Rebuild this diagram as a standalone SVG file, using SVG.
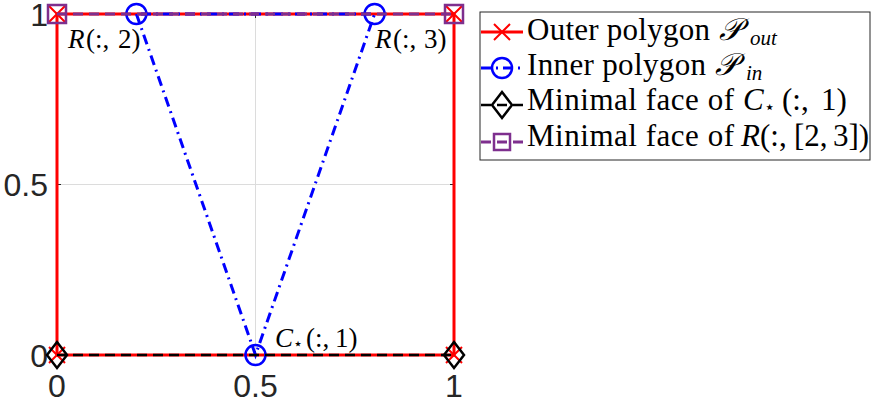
<svg xmlns="http://www.w3.org/2000/svg" width="885" height="402" viewBox="0 0 885 402">
<style>
.tick{font-family:"Liberation Sans",Arial,sans-serif;font-size:32px;fill:#262626}
.lbl{font-family:"Liberation Serif","DejaVu Serif",serif;font-size:27px;fill:#000}
.leg{font-family:"Liberation Serif","DejaVu Serif",serif;font-size:31px;fill:#000}
.it{font-style:italic}
.cal{font-family:"DejaVu Serif","Noto Sans",serif;font-style:italic}
.grid{stroke:#dcdcdc;stroke-width:1;fill:none}
.red{stroke:#ff0000;stroke-width:3;fill:none}
.blue{stroke:#0000ff;stroke-width:3;fill:none;stroke-dasharray:10 5 2 5}
.blk{stroke:#000;stroke-width:2.5;fill:none;stroke-dasharray:10 6}
.pur{stroke:#7e2f8e;stroke-width:3;fill:none;stroke-dasharray:10 6}
.mx{stroke:#ff0000;stroke-width:2;fill:none}
.mo{stroke:#0000ff;stroke-width:2.5;fill:none}
.md{stroke:#000;stroke-width:2.5;fill:none}
.ms{stroke:#7e2f8e;stroke-width:2.5;fill:none}
</style>
<defs>
<path id="xm" d="M-8,-8L8,8M-8,8L8,-8"/>
<path id="dm" d="M0,-13L10,0L0,13L-10,0Z"/>
<rect id="sq" x="-9" y="-9" width="18" height="18"/>
<rect id="sqs" x="-8" y="-8" width="16" height="16"/>
</defs>
<rect width="885" height="402" fill="#fff"/>
<g id="axes">
<line class="grid" x1="255.5" y1="14" x2="255.5" y2="355"/>
<line class="grid" x1="57" y1="184.5" x2="454" y2="184.5"/>
<rect x="57" y="14" width="397" height="341" fill="none" stroke="#262626" stroke-width="1"/>
<g stroke="#262626" stroke-width="1">
<line x1="255.5" y1="14" x2="255.5" y2="18"/>
<line x1="255.5" y1="351" x2="255.5" y2="355"/>
<line x1="57" y1="184.5" x2="61" y2="184.5"/>
<line x1="450" y1="184.5" x2="454" y2="184.5"/>
</g>
<g class="tick">
<text x="48" y="25.5" text-anchor="end">1</text>
<text x="48" y="196" text-anchor="end">0.5</text>
<text x="48" y="366.5" text-anchor="end">0</text>
<text x="57" y="397" text-anchor="middle">0</text>
<text x="255.5" y="397" text-anchor="middle">0.5</text>
<text x="454" y="397" text-anchor="middle">1</text>
</g>
</g>
<g id="connectors">
<g id="outer-polygon">
<rect class="red" x="57" y="14" width="397" height="341"/>
<use href="#xm" class="mx" x="57" y="14"/>
<use href="#xm" class="mx" x="454" y="14"/>
<use href="#xm" class="mx" x="57" y="355"/>
<use href="#xm" class="mx" x="454" y="355"/>
</g>
<g id="inner-polygon">
<path class="blue" d="M136.4,14L255.5,355L374.6,14Z"/>
<circle class="mo" cx="136.4" cy="14" r="10"/>
<circle class="mo" cx="374.6" cy="14" r="10"/>
<circle class="mo" cx="255.5" cy="355" r="10"/>
</g>
<g id="face-c">
<line class="blk" x1="57" y1="355" x2="454" y2="355"/>
<use href="#dm" class="md" x="57" y="355"/>
<use href="#dm" class="md" x="454" y="355"/>
</g>
<g id="face-r">
<line class="pur" x1="57" y1="14" x2="454" y2="14"/>
<use href="#sq" class="ms" x="57" y="14"/>
<use href="#sq" class="ms" x="454" y="14"/>
</g>
</g>
<g id="label-r2"><text class="lbl" y="48"><tspan class="it" x="68">R</tspan><tspan x="86">(:,</tspan><tspan x="118">2)</tspan></text></g>
<g id="label-r3"><text class="lbl" y="48"><tspan class="it" x="375">R</tspan><tspan x="393">(:,</tspan><tspan x="424">3)</tspan></text></g>
<g id="label-c1"><text class="lbl" y="347"><tspan class="it" x="275">C</tspan><tspan x="293" font-size="16" dy="2">⋆</tspan><tspan x="306" dy="-2">(:,</tspan><tspan x="335">1)</tspan></text></g>
<g id="legend">
<rect x="480" y="12" width="390" height="148" fill="#fff" stroke="#262626" stroke-width="1"/>
<line x1="481" y1="32" x2="523" y2="32" stroke="#ff0000" stroke-width="3"/>
<use href="#xm" class="mx" x="502" y="32"/>
<line x1="481" y1="68" x2="523" y2="68" class="blue" stroke-dasharray="6 4 2 4"/>
<circle class="mo" cx="502" cy="68" r="10"/>
<line x1="481" y1="105" x2="523" y2="105" class="blk" stroke-dasharray="7 5"/>
<use href="#dm" class="md" x="502" y="105"/>
<line x1="481" y1="142" x2="523" y2="142" class="pur" stroke-dasharray="7 5"/>
<use href="#sqs" class="ms" x="502" y="142"/>
<text class="leg" y="40"><tspan x="527" textLength="183">Outer polygon</tspan><tspan class="cal" x="719">𝒫</tspan><tspan class="it" x="750" dy="5" font-size="21">out</tspan></text>
<text class="leg" y="75"><tspan x="527" textLength="179">Inner polygon</tspan><tspan class="cal" x="715">𝒫</tspan><tspan class="it" x="746" dy="5" font-size="21">in</tspan></text>
<text class="leg" y="110"><tspan x="527" textLength="207">Minimal face of</tspan><tspan class="it" x="743">C</tspan><tspan x="764" font-size="18" dy="3">⋆</tspan><tspan x="782" dy="-3">(:,</tspan><tspan x="821">1)</tspan></text>
<text class="leg" y="146"><tspan x="527" textLength="207">Minimal face of</tspan><tspan class="it" x="741">R</tspan><tspan x="760">(:,</tspan><tspan x="794">[2,</tspan><tspan x="833">3])</tspan></text>
</g>
</svg>
